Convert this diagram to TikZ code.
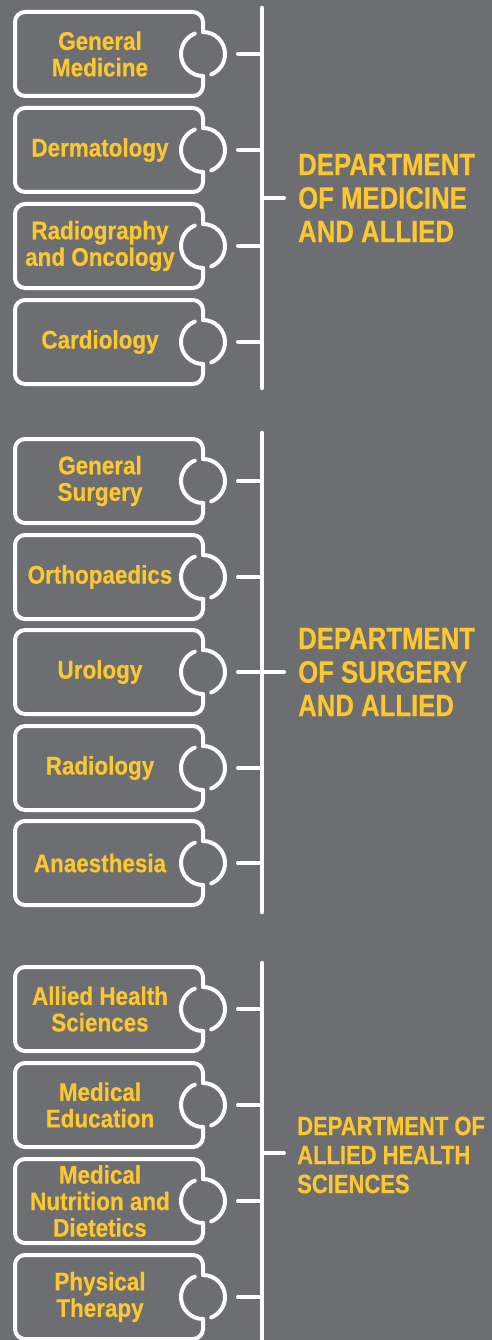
\documentclass[tikz,border=0pt]{standalone}
\usepackage{fontspec}
\usepackage{tikz}
\usetikzlibrary{positioning}
\usepackage{xcolor}
\newfontfamily\boxfont[FakeStretch=0.88, FakeBold=0.4]{Liberation Sans}
\newfontfamily\deptfont[FakeStretch=0.83, FakeBold=0.4]{Liberation Sans}
\definecolor{panel}{HTML}{6D6E71}
\definecolor{gold}{HTML}{FDC82F}
\tikzset{
  boxline/.style={draw=white, line width=4pt, line cap=round, line join=round},
  boxtext/.style={text=gold, font=\boxfont\bfseries\fontsize{25.5}{26.5}\selectfont, align=center, inner sep=0pt},
  depttext/.style={text=gold, font=\deptfont\bfseries\fontsize{31}{33.5}\selectfont, align=left, inner sep=0pt, anchor=west},
  spine/.style={draw=white, line width=4.5pt, line cap=round},
  tick/.style={draw=white, line width=4pt, line cap=round},
}
% #1 name, #2 centre y, #3 text
\newcommand{\tagbox}[3]{%
  \draw[boxline, rounded corners=10pt] (203,{#2-22}) -- (203,{#2-42}) -- (15,{#2-42})
    -- (15,{#2+42}) -- (203,{#2+42}) -- (203,{#2+22});
  \draw[boxline] (203,{#2-22}) arc[start angle=90, end angle=-68, radius=22pt];
  \draw[boxline] (203,{#2+22}) arc[start angle=270, end angle=112, radius=22pt];
  \node[boxtext] (#1) at (100,#2) {#3};
  \coordinate (#1-tip) at (238,#2);
}
\begin{document}
\begin{tikzpicture}[x=1pt, y=-1pt]
  \useasboundingbox (0,0) rectangle (492,1340);
  \fill[panel] (0,0) rectangle (492,1340);

  % department of medicine
  \coordinate (med-top) at (262,8);
  \coordinate (med-bot) at (262,388);
  \coordinate (med-mid) at (262,198);
  \draw[spine] (med-top) -- (med-bot);
  \tagbox{gen-med}{54}{General\\Medicine}
  \tagbox{derm}{150}{Dermatology}
  \tagbox{radonc}{246}{Radiography\\and Oncology}
  \tagbox{cardio}{342}{Cardiology}
  \draw[tick] (gen-med-tip) -- (gen-med-tip -| med-top);
  \draw[tick] (derm-tip) -- (derm-tip -| med-top);
  \draw[tick] (radonc-tip) -- (radonc-tip -| med-top);
  \draw[tick] (cardio-tip) -- (cardio-tip -| med-top);
  \node[depttext] (med-dept) at (298,198) {DEPARTMENT\\OF MEDICINE\\AND ALLIED};
  \draw[tick] (med-mid) -- ([xshift=-14pt]med-dept.west |- med-mid);

  % department of surgery
  \coordinate (surg-top) at (262,433);
  \coordinate (surg-bot) at (262,912);
  \coordinate (surg-mid) at (262,672);
  \draw[spine] (surg-top) -- (surg-bot);
  \tagbox{gen-surg}{481}{General\\Surgery}
  \tagbox{ortho}{577}{Orthopaedics}
  \tagbox{uro}{672}{Urology}
  \tagbox{radio}{768}{Radiology}
  \tagbox{anaes}{863}{Anaesthesia}
  \draw[tick] (gen-surg-tip) -- (gen-surg-tip -| surg-top);
  \draw[tick] (ortho-tip) -- (ortho-tip -| surg-top);
  \draw[tick] (uro-tip) -- (uro-tip -| surg-top);
  \draw[tick] (radio-tip) -- (radio-tip -| surg-top);
  \draw[tick] (anaes-tip) -- (anaes-tip -| surg-top);
  \node[depttext] (surg-dept) at (298,672) {DEPARTMENT\\OF SURGERY\\AND ALLIED};
  \draw[tick] (surg-mid) -- ([xshift=-14pt]surg-dept.west |- surg-mid);

  % department of allied health sciences
  \coordinate (ahs-top) at (262,963);
  \coordinate (ahs-bot) at (262,1345);
  \coordinate (ahs-mid) at (262,1153);
  \draw[spine] (ahs-top) -- (ahs-bot);
  \tagbox{ahs}{1009}{Allied Health\\Sciences}
  \tagbox{meded}{1105}{Medical\\Education}
  \tagbox{nutri}{1201}{Medical\\Nutrition and\\Dietetics}
  \tagbox{physio}{1297}{Physical\\Therapy}
  \draw[tick] (ahs-tip) -- (ahs-tip -| ahs-top);
  \draw[tick] (meded-tip) -- (meded-tip -| ahs-top);
  \draw[tick] (nutri-tip) -- (nutri-tip -| ahs-top);
  \draw[tick] (physio-tip) -- (physio-tip -| ahs-top);
  \node[depttext, font=\deptfont\bfseries\fontsize{26.5}{29}\selectfont] (ahs-dept) at (297,1155) {DEPARTMENT OF\\ALLIED HEALTH\\SCIENCES};
  \draw[tick] (ahs-mid) -- ([xshift=-13pt]ahs-dept.west |- ahs-mid);
\end{tikzpicture}
\end{document}
